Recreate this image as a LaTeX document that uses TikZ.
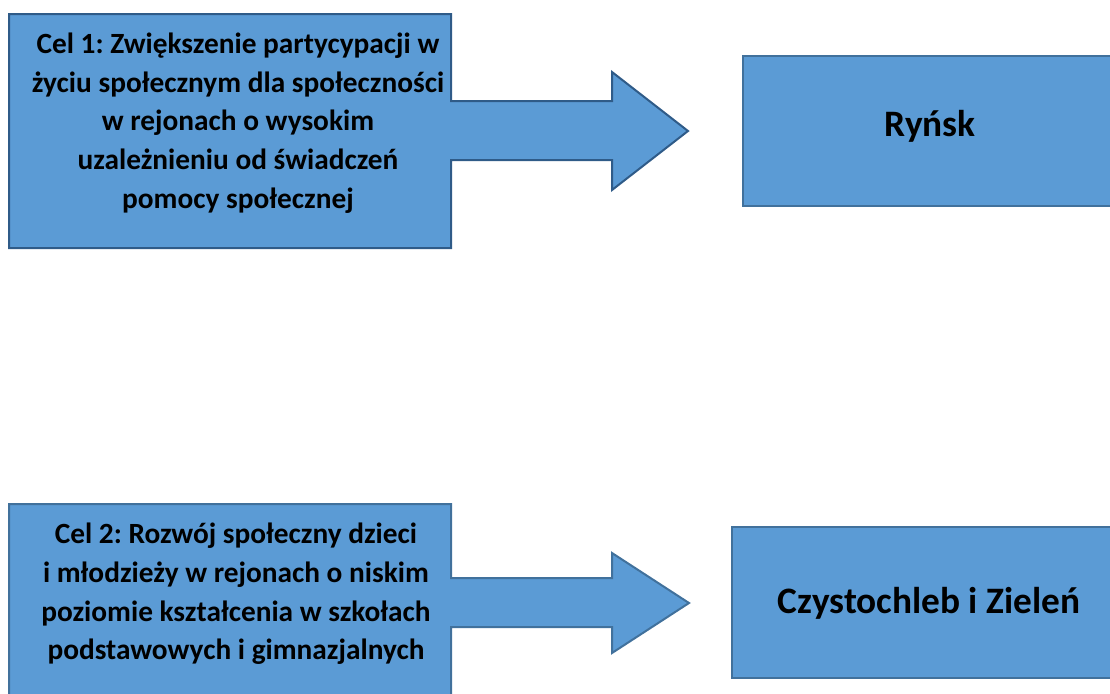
\documentclass[tikz,border=0pt]{standalone}
\usepackage{fontspec}
\setmainfont{Carlito}
\frenchspacing
\definecolor{boxfill}{HTML}{5B9BD5}
\definecolor{boxline}{HTML}{41719C}
\definecolor{boxlinedark}{HTML}{2F5B88}
\begin{document}
\begin{tikzpicture}[x=0.75pt,y=-0.75pt,
  shapebox/.style={fill=boxfill,draw=boxline,line width=1.5pt,line join=miter},
  goaltext/.style={align=center,font=\fontsize{22}{29}\selectfont\bfseries,inner sep=0pt},
  placetext/.style={font=\fontsize{28}{33}\selectfont\bfseries,inner sep=0pt}]
\useasboundingbox (0,0) rectangle (1110,693);
\clip (0,0) rectangle (1110,693);
% goal 1 callout
\draw[shapebox,draw=boxlinedark] (9,14) -- (451,14) -- (451,101) -- (612,101) -- (612,72) -- (688,131)
  -- (612,190) -- (612,160) -- (451,160) -- (451,248) -- (9,248) -- cycle;
\coordinate (tip1) at (688,131);
% goal 2 callout
\draw[shapebox] (9,504) -- (451,504) -- (451,578) -- (612,578) -- (612,553) -- (689,603)
  -- (612,653) -- (612,627) -- (451,627) -- (451,720) -- (9,720) -- cycle;
\coordinate (tip2) at (689,603);
% place boxes
\draw[shapebox] (743,56) rectangle (1130,206);
\draw[shapebox] (732,527) rectangle (1130,678);
\node[goaltext] (goal1) at (238,123) {Cel 1: Zwiększenie partycypacji w\\życiu społecznym dla społeczności\\w rejonach o wysokim\\uzależnieniu od świadczeń\\pomocy społecznej};
\node[goaltext] (goal2) at (236,594) {Cel 2: Rozwój społeczny dzieci\\i młodzieży w rejonach o niskim\\poziomie kształcenia w szkołach\\podstawowych i gimnazjalnych};
\node[placetext] (place1) at (930,126) {Ryńsk};
\node[placetext] (place2) at (929,603) {Czystochleb i Zieleń};
\end{tikzpicture}
\end{document}
